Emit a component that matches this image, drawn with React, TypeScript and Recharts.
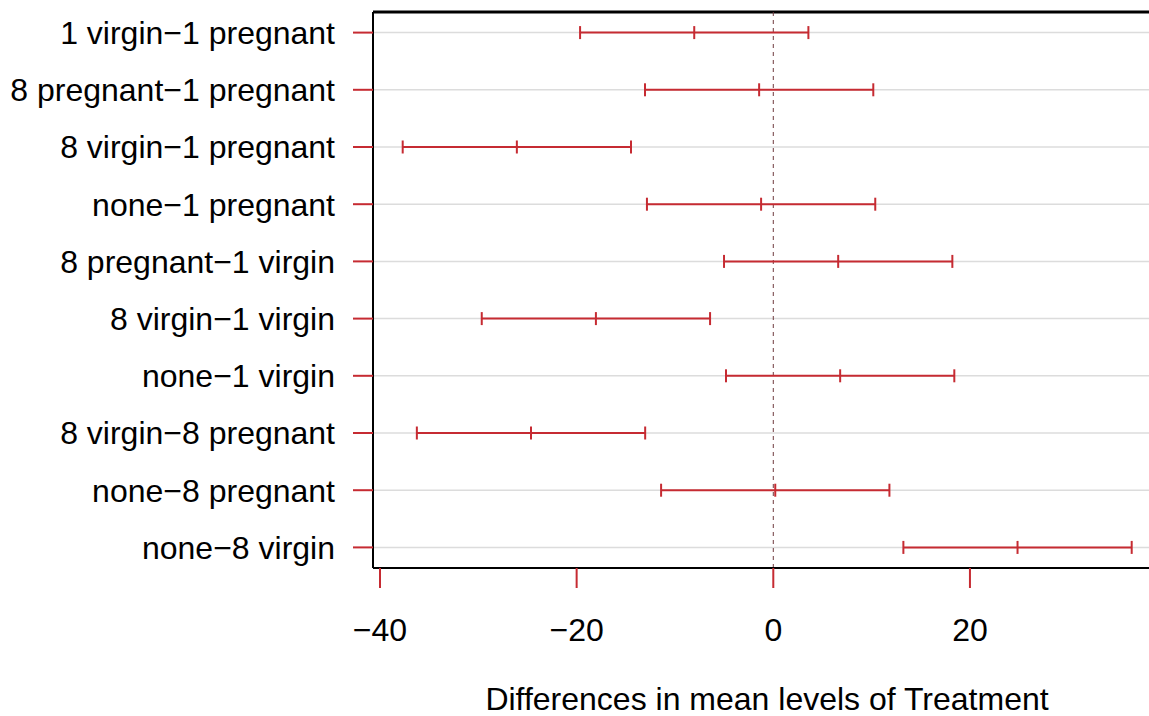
import { ScatterChart, Scatter, XAxis, YAxis, CartesianGrid, ReferenceLine, ErrorBar } from 'recharts'

const comparisons = [
  '1 virgin−1 pregnant',
  '8 pregnant−1 pregnant',
  '8 virgin−1 pregnant',
  'none−1 pregnant',
  '8 pregnant−1 virgin',
  '8 virgin−1 virgin',
  'none−1 virgin',
  '8 virgin−8 pregnant',
  'none−8 pregnant',
  'none−8 virgin',
]
const diffs = [-8.04, -1.44, -26.08, -1.24, 6.6, -18.04, 6.8, -24.64, 0.2, 24.84]
const lower = [-19.65, -13.05, -37.69, -12.85, -5.01, -29.65, -4.81, -36.25, -11.41, 13.23]
const upper = [3.57, 10.17, -14.47, 10.37, 18.21, -6.43, 18.41, -13.03, 11.81, 36.45]
const xTicks = [-40, -20, 0, 20]

const RED = '#c62b32'
const FONT = '"Liberation Sans", Arial, sans-serif'

const data = comparisons.map((name, i) => ({
  row: i + 1,
  name,
  diff: diffs[i],
  err: [diffs[i] - lower[i], upper[i] - diffs[i]],
}))

const MidTick = (props: any) => {
  const { cx, cy } = props
  return <line x1={cx} x2={cx} y1={cy - 6.5} y2={cy + 6.5} stroke={RED} strokeWidth={2} />
}

export default function App() {
  return (
    <div style={{ position: 'absolute', left: 0, top: 0, width: 1149, height: 716, overflow: 'hidden' }}>
      <ScatterChart
        width={1149}
        height={716}
        margin={{ top: 12, right: 0, bottom: 0, left: 0 }}
        style={{ fontFamily: FONT }}
      >
        <CartesianGrid horizontal vertical={false} stroke="#dcdcdc" strokeWidth={1.5} />
        <XAxis
          type="number"
          dataKey="diff"
          domain={[-40.71, 38.21]}
          allowDataOverflow
          ticks={xTicks}
          tickFormatter={(v: number) => String(v).replace('-', '−')}
          height={148}
          tickSize={20}
          tickMargin={30}
          tick={{ fontSize: 32, fill: '#000' }}
          tickLine={{ stroke: RED, strokeWidth: 2 }}
          axisLine={{ stroke: '#000', strokeWidth: 2 }}
          label={{
            value: 'Differences in mean levels of Treatment',
            position: 'insideBottom',
            offset: 6,
            fontSize: 32,
            fill: '#000',
            dx: 6,
          }}
        />
        <YAxis
          type="number"
          dataKey="row"
          domain={[0.64, 10.36]}
          reversed
          allowDataOverflow
          ticks={data.map((d) => d.row)}
          tickFormatter={(v: number) => comparisons[v - 1]}
          width={373}
          tickSize={20}
          tickMargin={18}
          tick={{ fontSize: 32, fill: '#000' }}
          tickLine={{ stroke: RED, strokeWidth: 2 }}
          axisLine={{ stroke: '#000', strokeWidth: 2 }}
          interval={0}
        />
        <ReferenceLine y={0.64} stroke="#000" strokeWidth={3} />
        <ReferenceLine x={0} stroke="#6e3a3e" strokeWidth={1} strokeDasharray="4 4" />
        <Scatter data={data} shape={<MidTick />} isAnimationActive={false}>
          <ErrorBar dataKey="err" direction="x" width={6.5} stroke={RED} strokeWidth={2} />
        </Scatter>
      </ScatterChart>
    </div>
  )
}
